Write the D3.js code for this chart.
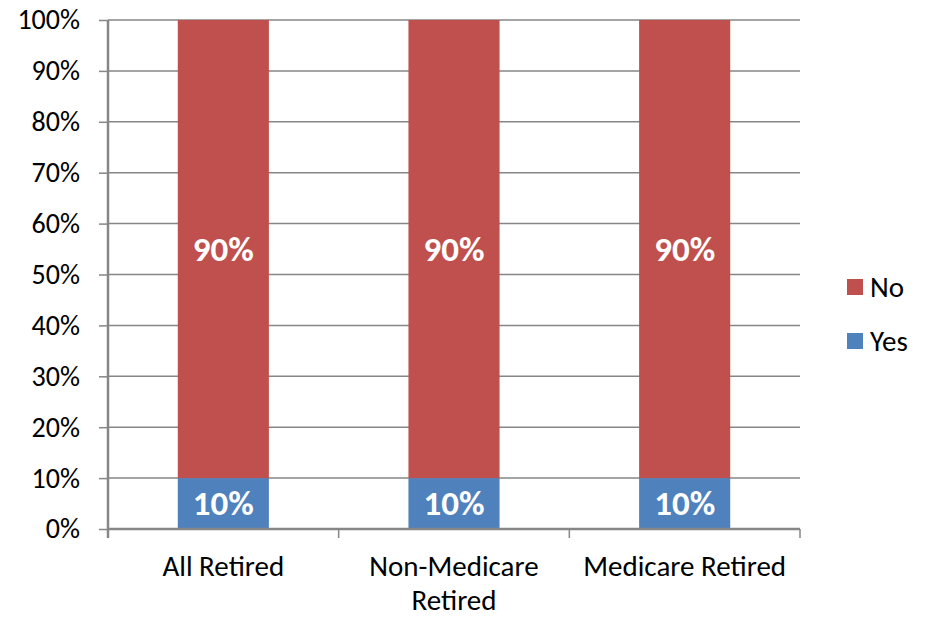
<!DOCTYPE html>
<html><head><meta charset="utf-8">
<script src="https://cdn.jsdelivr.net/npm/d3@7"></script>
<style>body{margin:0;background:#fff}svg{display:block}text{font-family:Carlito,Calibri,Lato,sans-serif}</style>
</head><body>
<svg id="c" width="930" height="618"></svg>
<script>
const categories = ["All Retired", "Non-Medicare Retired", "Medicare Retired"];
const categoryLines = [["All Retired"], ["Non-Medicare", "Retired"], ["Medicare Retired"]];
const yesValues = [0.10, 0.10, 0.10];
const noValues = [0.90, 0.90, 0.90];
const yesLabels = ["10%", "10%", "10%"];
const noLabels = ["90%", "90%", "90%"];
const seriesNames = ["No", "Yes"];
const seriesColors = ["#C0504D", "#4F81BD"];
const yTicks = [0, 0.1, 0.2, 0.3, 0.4, 0.5, 0.6, 0.7, 0.8, 0.9, 1.0];

const svg = d3.select("#c");
const L = 108, R = 800, T = 20, B = 529;
const x = d3.scaleBand().domain(categories).range([L, R]).paddingInner(0.605).paddingOuter(0.3025);
const y = d3.scaleLinear().domain([0, 1]).range([B, T]);
const axisColor = "#868686";

svg.append("g").selectAll("line").data(yTicks.slice(1)).join("line")
  .attr("x1", L).attr("x2", R).attr("y1", d => y(d)).attr("y2", d => y(d))
  .attr("stroke", axisColor).attr("stroke-width", 1.5);

const data = categories.map((c, i) => ({c, yes: yesValues[i], no: noValues[i], yl: yesLabels[i], nl: noLabels[i]}));
const g = svg.append("g");
g.selectAll(".yes").data(data).join("rect")
  .attr("x", d => x(d.c)).attr("width", x.bandwidth())
  .attr("y", d => y(d.yes)).attr("height", d => y(0) - y(d.yes)).attr("fill", seriesColors[1]);
g.selectAll(".no").data(data).join("rect")
  .attr("x", d => x(d.c)).attr("width", x.bandwidth())
  .attr("y", d => y(d.yes + d.no)).attr("height", d => y(d.yes) - y(d.yes + d.no)).attr("fill", seriesColors[0]);

g.selectAll(".yl").data(data).join("text")
  .attr("x", d => x(d.c) + x.bandwidth() / 2).attr("y", d => (y(0) + y(d.yes)) / 2)
  .attr("dy", "0.33em").attr("text-anchor", "middle").attr("fill", "#fff")
  .attr("font-weight", "bold").attr("font-size", 35).text(d => d.yl);
g.selectAll(".nl").data(data).join("text")
  .attr("x", d => x(d.c) + x.bandwidth() / 2).attr("y", d => (y(d.yes) + y(d.yes + d.no)) / 2)
  .attr("dy", "0.33em").attr("text-anchor", "middle").attr("fill", "#fff")
  .attr("font-weight", "bold").attr("font-size", 35).text(d => d.nl);

const yAxis = svg.append("g").attr("transform", `translate(${L},0)`)
  .call(d3.axisLeft(y).tickValues(yTicks).tickFormat(d3.format(".0%")).tickSize(9).tickPadding(19));
yAxis.select(".domain").attr("stroke", axisColor).attr("stroke-width", 2.5).attr("d", `M0,${T}V${B + 9}`);
yAxis.selectAll(".tick line").attr("stroke", axisColor).attr("stroke-width", 1.5);
yAxis.selectAll(".tick text").attr("font-size", 28).attr("fill", "#000").attr("font-family", null);

const xg = svg.append("g");
xg.append("line").attr("x1", L).attr("x2", R).attr("y1", B).attr("y2", B)
  .attr("stroke", axisColor).attr("stroke-width", 2.5);
const bounds = categories.map(c => x(c) - x.step() * x.paddingInner() / 2).concat([R]);
bounds[0] = L;
xg.selectAll(".xt").data(bounds).join("line")
  .attr("x1", d => d).attr("x2", d => d).attr("y1", B).attr("y2", B + 9)
  .attr("stroke", axisColor).attr("stroke-width", 1.5);
xg.selectAll(".xl").data(categoryLines).join("text")
  .attr("x", (d, i) => x(categories[i]) + x.bandwidth() / 2)
  .attr("y", 576).attr("text-anchor", "middle").attr("font-size", 29).attr("fill", "#000")
  .each(function(d) {
    const t = d3.select(this);
    d.forEach((line, j) => t.append("tspan").attr("x", t.attr("x")).attr("dy", j === 0 ? 0 : 34).text(line));
  });

const leg = svg.append("g");
seriesNames.forEach((n, i) => {
  leg.append("rect").attr("x", 847).attr("y", 279 + i * 54).attr("width", 16).attr("height", 16).attr("fill", seriesColors[i]);
  leg.append("text").attr("x", 870).attr("y", 297 + i * 54).attr("font-size", 29).attr("fill", "#000").text(n);
});
</script>
</body></html>
